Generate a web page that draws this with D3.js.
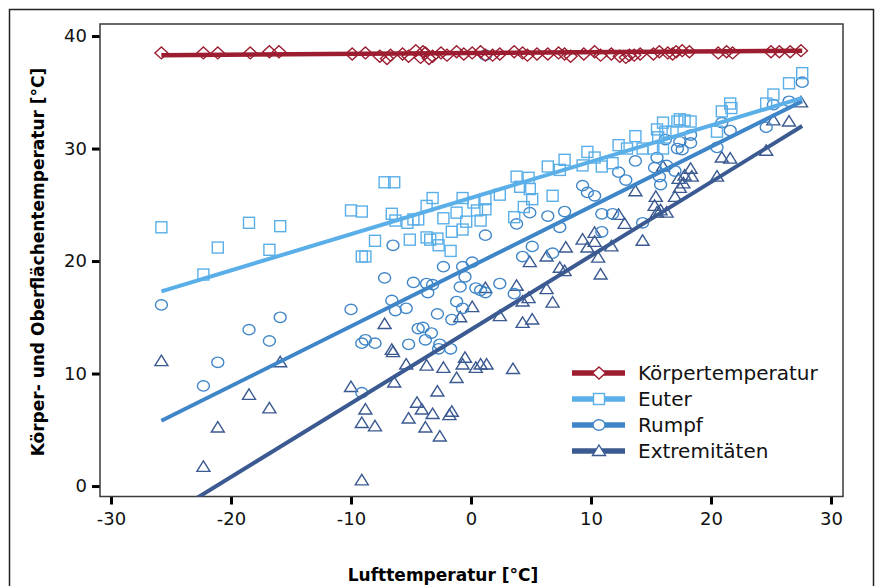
<!DOCTYPE html>
<html>
<head>
<meta charset="utf-8">
<script src="https://cdn.jsdelivr.net/npm/d3@7"></script>
<style>
  body { margin: 0; background: #fff; }
  svg { display: block; }
</style>
</head>
<body>
<div class="canvas"></div>
<script>
// tick labels
const xTicks = [-30, -20, -10, 0, 10, 20, 30];
const yTicks = [0, 10, 20, 30, 40];

// series: [lufttemperatur, temperatur]
const koerper = [[-25.8,38.5],[-22.3,38.5],[-21.1,38.5],[-18.4,38.5],[-16.8,38.6],[-16.0,38.6],[-9.9,38.4],[-8.8,38.5],[-7.6,38.2],[-7.0,38.0],[-6.7,38.3],[-5.7,38.4],[-5.2,38.2],[-4.6,38.7],[-4.2,38.1],[-4.0,38.6],[-3.8,38.5],[-3.5,38.0],[-3.2,38.2],[-2.5,38.5],[-2.0,38.3],[-1.2,38.6],[-0.6,38.4],[0.1,38.5],[0.8,38.6],[1.2,38.3],[1.8,38.3],[2.4,38.4],[3.6,38.6],[4.3,38.5],[4.7,38.3],[5.5,38.4],[6.4,38.4],[7.3,38.5],[7.8,38.4],[8.3,38.2],[9.4,38.4],[10.3,38.6],[10.8,38.3],[11.7,38.4],[12.4,38.2],[12.9,38.1],[13.2,38.3],[13.6,38.3],[14.1,38.4],[15.2,38.4],[15.7,38.6],[16.4,38.5],[16.8,38.4],[17.1,38.6],[17.6,38.7],[18.2,38.6],[20.6,38.5],[21.3,38.6],[21.8,38.5],[25.0,38.6],[25.7,38.6],[26.6,38.6],[27.5,38.7]];

const euter = [[-25.8,23.0],[-22.3,18.8],[-21.1,21.2],[-18.5,23.4],[-16.8,21.0],[-15.9,23.1],[-10.0,24.5],[-9.1,24.4],[-9.1,20.4],[-8.8,20.4],[-8.0,21.8],[-7.2,27.0],[-6.4,27.0],[-6.6,24.2],[-6.3,23.6],[-5.3,23.4],[-4.8,23.7],[-4.4,23.7],[-3.7,24.9],[-3.2,25.6],[-2.3,23.8],[-1.2,24.3],[-0.7,25.6],[-0.4,23.5],[0.2,25.2],[0.5,24.5],[1.2,25.5],[1.2,24.6],[0.8,23.6],[2.4,25.9],[-1.6,22.6],[-0.7,22.8],[-5.1,21.9],[-3.7,22.1],[-3.4,21.9],[-2.8,22.0],[-2.7,21.4],[-1.7,20.9],[3.6,23.9],[4.4,24.8],[5.1,25.5],[4.9,26.4],[4.1,26.6],[3.8,27.5],[4.8,27.4],[6.4,28.4],[6.8,25.8],[7.4,28.1],[7.8,29.0],[9.3,28.5],[9.7,29.7],[10.3,29.2],[10.9,28.4],[11.8,28.7],[12.3,30.3],[13.0,30.0],[13.7,31.1],[14.3,30.0],[15.2,30.0],[16.0,30.0],[15.5,31.7],[16.0,32.3],[16.2,31.5],[15.6,31.0],[16.8,31.5],[17.2,32.4],[17.4,32.6],[17.8,32.5],[18.3,32.4],[20.5,31.5],[20.9,33.3],[21.7,33.6],[21.6,34.0],[24.6,34.0],[25.2,34.8],[26.5,35.8],[27.6,36.7]];

const rumpf = [[-25.8,16.1],[-22.3,8.9],[-21.1,11.0],[-18.5,13.9],[-16.8,12.9],[-15.9,15.0],[-10.0,15.7],[-9.1,12.7],[-8.8,13.0],[-8.0,12.7],[-9.1,8.3],[-6.5,21.4],[-2.3,19.5],[-0.7,19.5],[0.1,19.9],[-0.5,18.6],[-0.9,17.7],[-7.2,18.5],[-4.8,18.1],[-3.7,18.0],[-3.2,17.9],[-3.6,17.2],[0.4,17.6],[0.8,17.4],[1.2,17.2],[2.4,18.0],[3.6,17.1],[4.3,20.4],[5.1,21.3],[6.8,20.7],[-6.6,16.5],[-6.3,15.6],[-5.4,15.8],[-2.8,15.3],[-1.2,16.4],[-0.7,15.8],[-1.6,14.8],[-4.4,14.0],[-4.0,14.1],[-3.3,13.6],[-3.8,13.0],[-2.6,12.6],[-2.7,12.2],[-1.7,12.2],[-5.2,12.6],[1.2,22.3],[3.8,23.3],[4.9,24.3],[6.4,24.0],[7.4,23.0],[7.8,24.4],[9.3,26.7],[9.7,26.1],[10.3,25.8],[27.6,35.9],[26.5,34.2],[25.2,33.9],[24.6,31.9],[21.6,31.6],[20.9,32.3],[20.5,30.1],[18.3,31.2],[18.3,30.5],[17.4,30.6],[17.6,29.9],[17.2,30.0],[16.2,30.8],[15.5,29.2],[15.3,28.3],[16.3,28.5],[17.0,28.0],[15.7,27.5],[15.8,26.8],[13.7,28.9],[12.3,27.9],[12.9,27.2],[11.8,24.2],[10.9,24.2],[10.9,22.6],[14.3,23.4],[1.2,38.3]];

const extrem = [[-25.8,11.1],[-22.3,1.7],[-21.1,5.2],[-18.5,8.1],[-16.8,6.9],[-15.9,11.0],[-10.0,8.8],[-9.1,0.5],[-8.8,6.8],[-9.1,5.6],[-8.0,5.3],[-7.2,14.4],[-6.6,12.1],[-6.5,11.9],[-5.4,10.8],[-6.4,9.2],[-3.7,10.7],[-2.3,10.5],[-2.8,8.4],[-1.2,9.6],[-0.7,10.8],[-0.5,11.4],[0.4,10.5],[0.8,10.8],[1.3,10.8],[3.5,10.4],[-4.5,7.4],[-4.1,6.8],[-3.2,6.4],[-1.6,6.6],[-1.8,6.3],[-5.2,6.0],[-2.6,4.4],[-3.8,5.2],[0.1,15.9],[-0.9,15.0],[1.2,17.6],[3.8,17.8],[4.3,16.4],[4.8,16.7],[2.4,15.1],[4.3,14.5],[5.1,14.8],[6.3,17.5],[6.8,16.3],[4.9,19.9],[6.3,20.4],[7.4,19.4],[7.9,21.2],[9.7,21.2],[10.3,21.7],[10.6,20.3],[10.8,18.8],[11.7,21.3],[7.8,19.1],[9.3,21.9],[10.3,22.5],[27.5,34.1],[26.5,32.4],[25.2,32.5],[24.6,29.8],[21.6,29.1],[20.9,29.2],[20.5,27.5],[18.3,28.2],[18.4,27.5],[17.8,27.6],[17.3,27.3],[17.7,26.9],[17.4,26.5],[17.0,25.7],[16.0,28.4],[15.4,25.7],[15.3,24.9],[15.8,24.5],[16.3,24.3],[15.5,24.3],[13.7,26.2],[12.3,24.1],[12.8,23.3],[14.3,21.8]];

// regression lines (start / end)
const fitX = [-25.8, 27.6];
const koerperFit = [38.3, 38.7];
const euterFit = [17.3, 34.5];
const rumpfFit = [5.8, 34.2];
const extremFit = [-3.0, 32.0];

const names = ['Körpertemperatur', 'Euter', 'Rumpf', 'Extremitäten'];

const W = 876, H = 586;
const svg = d3.select('.canvas').append('svg')
  .attr('width', W).attr('height', H)
  .style('font-family', '"DejaVu Sans", sans-serif');

// outer frame
svg.append('rect')
  .attr('x', 9.5).attr('y', 9.5).attr('width', 864).attr('height', 620)
  .attr('fill', 'none').attr('stroke', '#222').attr('stroke-width', 1.5);

const plot = {left: 100, right: 843, top: 24, bottom: 496.5};

const x = d3.scaleLinear().domain([-30.917, 31.0]).range([plot.left, plot.right]);
const y = d3.scaleLinear().domain([-0.93, 41.07]).range([plot.bottom, plot.top]);

svg.append('clipPath').attr('id', 'clip')
  .append('rect')
  .attr('x', plot.left).attr('y', plot.top)
  .attr('width', plot.right - plot.left).attr('height', plot.bottom - plot.top);

// axes (plain hyphen for negatives, like the original)
const xAxis = d3.axisBottom(x).tickValues(xTicks).tickSize(8).tickPadding(8).tickFormat(d => String(d));
const yAxis = d3.axisLeft(y).tickValues(yTicks).tickSize(8).tickPadding(5).tickFormat(d => String(d));

const xg = svg.append('g').attr('transform', `translate(0, ${plot.bottom})`).call(xAxis);
const yg = svg.append('g').attr('transform', `translate(${plot.left}, 0)`).call(yAxis);
[xg, yg].forEach(g => {
  g.select('.domain').remove();
  g.selectAll('.tick line').attr('stroke', '#000').attr('stroke-width', 3);
  g.selectAll('.tick text')
    .attr('fill', '#111')
    .style('font-size', '18px')
    .style('font-family', '"DejaVu Sans", sans-serif');
});

// plot box
svg.append('rect')
  .attr('x', plot.left).attr('y', plot.top)
  .attr('width', plot.right - plot.left).attr('height', plot.bottom - plot.top)
  .attr('fill', 'none').attr('stroke', '#3a3a3a').attr('stroke-width', 1.5);

// axis titles
svg.append('text')
  .attr('x', 443).attr('y', 581)
  .attr('text-anchor', 'middle')
  .style('font-size', '17px').style('font-weight', 'bold')
  .text('Lufttemperatur [°C]');

svg.append('text')
  .attr('transform', 'translate(44, 262) rotate(-90)')
  .attr('text-anchor', 'middle')
  .style('font-size', '17px').style('font-weight', 'bold')
  .text('Körper- und Oberflächentemperatur [°C]');

// marker shapes
const markers = {
  diamond: (g, cx, cy) => g.append('path').attr('d', `M${cx},${cy - 6}L${cx + 6.5},${cy}L${cx},${cy + 6}L${cx - 6.5},${cy}Z`),
  square: (g, cx, cy) => g.append('rect').attr('x', cx - 5.5).attr('y', cy - 5.5).attr('width', 11).attr('height', 11),
  circle: (g, cx, cy) => g.append('ellipse').attr('cx', cx).attr('cy', cy).attr('rx', 6).attr('ry', 5.2),
  triangle: (g, cx, cy) => g.append('path').attr('d', `M${cx},${cy - 6}L${cx + 6.5},${cy + 4.5}L${cx - 6.5},${cy + 4.5}Z`)
};

const series = [
  {name: names[3], data: extrem, fit: extremFit, color: '#3b5a91', shape: 'triangle', width: 4},
  {name: names[2], data: rumpf, fit: rumpfFit, color: '#3f86c8', shape: 'circle', width: 4},
  {name: names[1], data: euter, fit: euterFit, color: '#5aafe8', shape: 'square', width: 4},
  {name: names[0], data: koerper, fit: koerperFit, color: '#9c1c30', shape: 'diamond', width: 4.5}
];

const pts = svg.append('g').attr('clip-path', 'url(#clip)');
series.forEach(s => {
  const g = pts.append('g')
    .attr('fill', 'none').attr('stroke', s.color).attr('stroke-width', 1.4);
  s.data.forEach(d => markers[s.shape](g, x(d[0]), y(d[1])));
});

const lines = svg.append('g').attr('clip-path', 'url(#clip)');
series.forEach(s => {
  lines.append('line')
    .attr('x1', x(fitX[0])).attr('y1', y(s.fit[0]))
    .attr('x2', x(fitX[1])).attr('y2', y(s.fit[1]))
    .attr('stroke', s.color).attr('stroke-width', s.width);
});

// legend
const legend = svg.append('g').attr('transform', 'translate(572, 373)');
series.slice().reverse().forEach((s, i) => {
  const row = legend.append('g').attr('transform', `translate(0, ${i * 26})`);
  row.append('line').attr('x1', 0).attr('x2', 53).attr('y1', 0).attr('y2', 0)
    .attr('stroke', s.color).attr('stroke-width', 5.5);
  const m = row.append('g').attr('fill', '#fff').attr('stroke', s.color).attr('stroke-width', 1.4);
  markers[s.shape](m, 27, 0);
  row.append('text')
    .attr('x', 66).attr('y', 0).attr('dy', '0.35em')
    .style('font-size', '20px').attr('fill', '#111')
    .text(s.name);
});
</script>
</body>
</html>
